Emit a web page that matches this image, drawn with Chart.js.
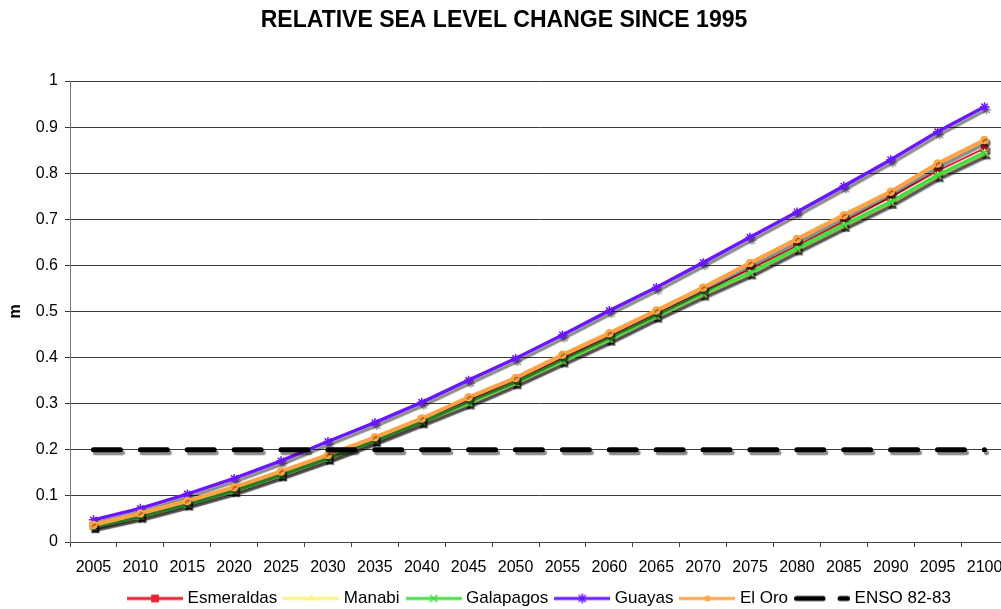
<!DOCTYPE html>
<html>
<head>
<meta charset="utf-8">
<title>Relative sea level change since 1995</title>
<script src="https://cdn.jsdelivr.net/npm/chart.js@4/dist/chart.umd.min.js"></script>
<style>
  html, body { margin: 0; padding: 0; background: #fff; overflow: hidden; }
  canvas { display: block; }
</style>
</head>
<body>
<canvas id="slr" width="1024" height="609"></canvas>
<script>
// Projection years (category axis)
const years = ['2005','2010','2015','2020','2025','2030','2035','2040','2045','2050',
               '2055','2060','2065','2070','2075','2080','2085','2090','2095','2100'];

// Relative sea level rise per province, metres
const esmeraldas = [0.035,0.058,0.085,0.114,0.148,0.184,0.223,0.264,0.307,0.350,
                    0.398,0.445,0.495,0.543,0.592,0.642,0.695,0.748,0.805,0.854];
const manabi     = [0.032,0.054,0.081,0.110,0.144,0.180,0.219,0.259,0.300,0.344,
                    0.391,0.438,0.488,0.536,0.582,0.634,0.685,0.735,0.793,0.842];
const galapagos  = [0.033,0.055,0.082,0.111,0.145,0.181,0.220,0.261,0.302,0.346,
                    0.393,0.440,0.490,0.539,0.584,0.637,0.688,0.738,0.796,0.845];
const guayas     = [0.048,0.073,0.104,0.138,0.176,0.218,0.259,0.303,0.351,0.398,
                    0.449,0.502,0.552,0.606,0.661,0.716,0.772,0.829,0.890,0.944];
const elOro      = [0.037,0.062,0.089,0.119,0.153,0.189,0.227,0.268,0.314,0.356,
                    0.406,0.453,0.502,0.552,0.605,0.657,0.709,0.760,0.821,0.872];
// 1982-83 El Niño reference level
const enso8283   = [0.2,0.2,0.2,0.2,0.2,0.2,0.2,0.2,0.2,0.2,
                    0.2,0.2,0.2,0.2,0.2,0.2,0.2,0.2,0.2,0.2];

const seriesNames = ['Esmeraldas','Manabi','Galapagos','Guayas','El Oro','ENSO 82-83'];
const yTickLabels = ['0','0.1','0.2','0.3','0.4','0.5','0.6','0.7','0.8','0.9','1'];

const FONT = '"Liberation Sans", Arial, Helvetica, sans-serif';

// ---- small marker painter used for the legend samples ----
function paintMarker(c, shape, x, y, r) {
  c.beginPath();
  if (shape === 'rect') {
    const h = r * Math.SQRT1_2;
    c.fillRect(x - h, y - h, 2 * h, 2 * h);
  } else if (shape === 'triangle') {
    c.moveTo(x, y - r);
    c.lineTo(x + r * 0.866, y + r * 0.5);
    c.lineTo(x - r * 0.866, y + r * 0.5);
    c.closePath();
    c.fill();
  } else if (shape === 'circle') {
    c.arc(x, y, r, 0, Math.PI * 2);
    c.fill();
  } else if (shape === 'crossRot' || shape === 'star') {
    const d = r * Math.SQRT1_2;
    c.lineWidth = 1.5;
    c.moveTo(x - d, y - d); c.lineTo(x + d, y + d);
    c.moveTo(x + d, y - d); c.lineTo(x - d, y + d);
    if (shape === 'star') {
      c.moveTo(x, y - r); c.lineTo(x, y + r);
      c.moveTo(x - r, y); c.lineTo(x + r, y);
    }
    c.stroke();
  }
}

function legendSample(color, lw, shape, r, dashed) {
  const cv = document.createElement('canvas');
  cv.width = 56; cv.height = 14;
  const c = cv.getContext('2d');
  c.strokeStyle = color; c.fillStyle = color; c.lineWidth = lw;
  if (dashed) {
    c.lineCap = 'round';
    c.beginPath();
    c.moveTo(2.5, 7); c.lineTo(29, 7);
    c.moveTo(46, 7); c.lineTo(53.5, 7);
    c.stroke();
  } else {
    c.beginPath(); c.moveTo(0, 7); c.lineTo(56, 7); c.stroke();
    paintMarker(c, shape, 28, 7, r);
  }
  return cv;
}

const COLORS = {
  esmeraldas: '#e2232b',
  manabi:     '#fff27a',
  galapagos:  '#44dd44',
  guayas:     '#6a16ff',
  elOro:      '#ffa446',
  enso:       '#000000'
};

const legendIcons = [
  legendSample(COLORS.esmeraldas, 3, 'rect', 5.5),
  legendSample(COLORS.manabi, 3, 'triangle', 4.5),
  legendSample(COLORS.galapagos, 3, 'crossRot', 5),
  legendSample(COLORS.guayas, 3, 'star', 5),
  legendSample(COLORS.elOro, 3, 'circle', 3),
  legendSample(COLORS.enso, 5, null, 0, true)
];

// soft drop shadow under every series
const seriesShadow = {
  id: 'seriesShadow',
  beforeDatasetDraw(chart) {
    const c = chart.ctx;
    c.save();
    c.shadowColor = 'rgba(0,0,0,0.45)';
    c.shadowOffsetX = 2;
    c.shadowOffsetY = 3;
    c.shadowBlur = 1;
  },
  afterDatasetDraw(chart) {
    chart.ctx.restore();
  }
};

// move the legend row under the plot area
const legendOffset = {
  id: 'legendOffset',
  afterLayout(chart) {
    const l = chart.legend;
    if (!l) return;
    l.left += 37; l.right += 37;
    l.top += 8; l.bottom += 8;
  }
};

function lineSeries(label, data, color, width, style, radius, order) {
  return {
    label, data, order,
    borderColor: color,
    backgroundColor: color,
    borderWidth: width,
    pointStyle: style,
    pointRadius: radius,
    pointBackgroundColor: color,
    pointBorderColor: color,
    pointBorderWidth: 1.5,
    tension: 0,
    fill: false
  };
}

const datasets = [
  lineSeries(seriesNames[0], esmeraldas, COLORS.esmeraldas, 2, 'rect', 4.5, 6),
  lineSeries(seriesNames[1], manabi,     COLORS.manabi,     3.5, 'triangle', 4, 5),
  lineSeries(seriesNames[2], galapagos,  COLORS.galapagos,  3.5, 'crossRot', 4.5, 4),
  lineSeries(seriesNames[3], guayas,     COLORS.guayas,     3.5, 'star', 4.5, 3),
  lineSeries(seriesNames[4], elOro,      COLORS.elOro,      4, 'circle', 3.5, 2),
  {
    label: seriesNames[5], data: enso8283, order: 1,
    borderColor: COLORS.enso, backgroundColor: COLORS.enso,
    borderWidth: 5, borderDash: [27, 19.89], borderCapStyle: 'round',
    pointRadius: 0, tension: 0, fill: false
  }
];

new Chart(document.getElementById('slr'), {
  type: 'line',
  data: { labels: years, datasets },
  plugins: [seriesShadow, legendOffset],
  options: {
    responsive: false,
    animation: false,
    devicePixelRatio: 1,
    layout: { padding: { left: 0, right: 16, top: 0, bottom: 0 } },
    plugins: {
      tooltip: { enabled: false },
      title: {
        display: true,
        text: 'RELATIVE SEA LEVEL CHANGE SINCE 1995',
        color: '#000',
        font: { family: FONT, size: 23, weight: 'bold' },
        padding: { top: 6.7, bottom: 46.7 }
      },
      legend: {
        display: true,
        position: 'bottom',
        align: 'center',
        labels: {
          color: '#000',
          font: { family: FONT, size: 17 },
          usePointStyle: true,
          pointStyleWidth: 48,
          padding: 10,
          generateLabels(chart) {
            const items = Chart.defaults.plugins.legend.labels.generateLabels(chart);
            items.forEach(it => { it.pointStyle = legendIcons[it.datasetIndex]; });
            return items;
          },
          sort: (a, b) => a.datasetIndex - b.datasetIndex
        }
      }
    },
    scales: {
      x: {
        type: 'category',
        offset: true,
        grid: {
          offset: true,
          drawOnChartArea: false,
          drawTicks: true,
          tickLength: 5,
          color: '#444'
        },
        border: { display: true, color: '#444', width: 1 },
        ticks: {
          color: '#000',
          font: { family: FONT, size: 16 },
          padding: 11,
          maxRotation: 0,
          autoSkip: false
        },
        afterFit(scale) { scale.height = 30; }
      },
      y: {
        min: 0,
        max: 1,
        grid: { color: '#3a3a3a', lineWidth: 1, tickLength: 5, drawTicks: true },
        border: { display: true, color: '#777', width: 1 },
        ticks: {
          stepSize: 0.1,
          color: '#000',
          font: { family: FONT, size: 16 },
          padding: 7,
          callback: (v, i) => yTickLabels[i]
        },
        title: {
          display: true,
          text: 'm',
          color: '#000',
          font: { family: FONT, size: 16, weight: 'bold' },
          padding: { top: 6, bottom: 0 }
        },
        afterFit(scale) { scale.width = 70; }
      }
    }
  }
});
</script>
</body>
</html>
